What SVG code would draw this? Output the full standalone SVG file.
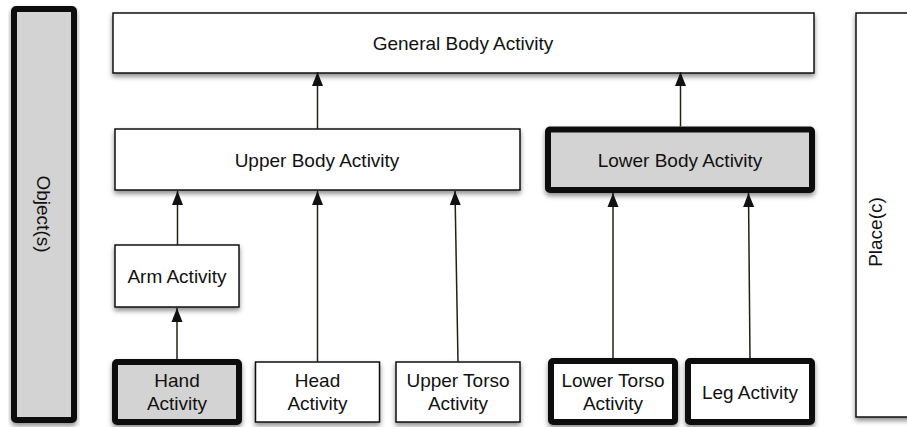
<svg xmlns="http://www.w3.org/2000/svg" width="907" height="427" viewBox="0 0 907 427">
<defs>
<filter id="sh" x="-10%" y="-10%" width="120%" height="130%">
<feDropShadow dx="0" dy="3" stdDeviation="2.5" flood-color="#000" flood-opacity="0.45"/>
</filter>
<marker id="ah" markerUnits="userSpaceOnUse" markerWidth="15" markerHeight="12" viewBox="0 0 15 12" refX="14" refY="6" orient="auto">
<path d="M0 0.5 L14 6 L0 11.5 Z" fill="#111"/>
</marker>
<style>
.n{fill:#fff;stroke:#111;stroke-width:1.5;filter:url(#sh)}
.b{fill:#fff;stroke:#111;stroke-width:6;filter:url(#sh)}
.g{fill:#d3d3d3}
.t{font-family:"Liberation Sans",Arial,Helvetica,sans-serif;font-size:19px;fill:#111;text-anchor:middle}
.c{stroke:#222211;stroke-width:1.5;fill:none}
</style>
</defs>
<rect width="907" height="427" fill="#fff"/>

<g id="objects">
<rect class="b g" x="14" y="9" width="60" height="411" rx="2"/>
<text class="t" transform="translate(44,214) rotate(90)" y="7">Object(s)</text>
</g>
<g id="place">
<rect class="n" x="856" y="13" width="70" height="404"/>
<text class="t" transform="translate(875,232) rotate(-90)" y="7">Place(c)</text>
</g>
<g id="general">
<rect class="n" x="113" y="13" width="701" height="60"/>
<text class="t" x="463" y="50">General Body Activity</text>
</g>
<g id="upper">
<rect class="n" x="115" y="129" width="405" height="61"/>
<text class="t" x="317" y="166.5">Upper Body Activity</text>
</g>
<g id="lower">
<rect class="b g" x="548" y="129.5" width="264" height="60.5" rx="2"/>
<text class="t" x="680" y="166.5">Lower Body Activity</text>
</g>
<g id="arm">
<rect class="n" x="115" y="245" width="124" height="62"/>
<text class="t" x="177" y="283">Arm Activity</text>
</g>
<g id="hand">
<rect class="b g" x="115" y="362" width="124" height="60" rx="2"/>
<text class="t" x="177" y="387">Hand</text>
<text class="t" x="177" y="410">Activity</text>
</g>
<g id="head">
<rect class="n" x="255.5" y="362" width="124" height="60"/>
<text class="t" x="317.5" y="387">Head</text>
<text class="t" x="317.5" y="410">Activity</text>
</g>
<g id="uppertorso">
<rect class="n" x="396" y="362" width="124" height="60"/>
<text class="t" x="458" y="387">Upper Torso</text>
<text class="t" x="458" y="410">Activity</text>
</g>
<g id="lowertorso">
<rect class="b" x="551" y="361" width="124" height="61" rx="2"/>
<text class="t" x="613" y="387">Lower Torso</text>
<text class="t" x="613" y="410">Activity</text>
</g>
<g id="leg">
<rect class="b" x="688" y="361" width="124" height="61" rx="2"/>
<text class="t" x="750" y="398.5">Leg Activity</text>
</g>

<g id="connectors">
<path class="c" d="M317.5 129 L317.5 72" marker-end="url(#ah)"/>
<path class="c" d="M680.5 126.5 L680.5 72" marker-end="url(#ah)"/>
<path class="c" d="M177.5 245 L177.5 191" marker-end="url(#ah)"/>
<path class="c" d="M317.5 362 L317.5 191" marker-end="url(#ah)"/>
<path class="c" d="M458 362 L455 191" marker-end="url(#ah)"/>
<path class="c" d="M177 359 L177 308" marker-end="url(#ah)"/>
<path class="c" d="M613 358 L613 193" marker-end="url(#ah)"/>
<path class="c" d="M750 358 L748.5 193" marker-end="url(#ah)"/>
</g>
</svg>
